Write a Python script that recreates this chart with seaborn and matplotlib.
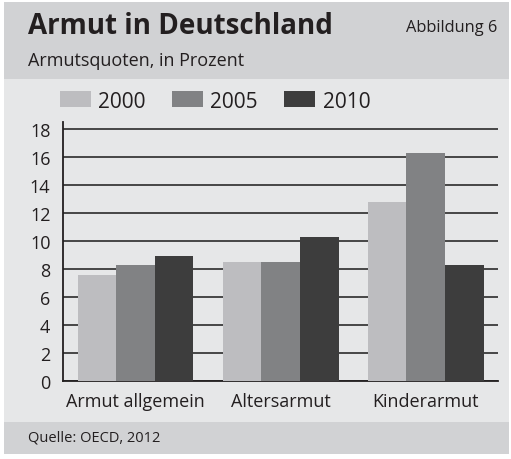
import numpy as np
import pandas as pd
import matplotlib
matplotlib.use("Agg")
import matplotlib.pyplot as plt
import seaborn as sns
from matplotlib.patches import Rectangle

categories = ["Armut allgemein", "Altersarmut", "Kinderarmut"]
years = ["2000", "2005", "2010"]
values_2000 = [7.6, 8.5, 12.8]
values_2005 = [8.3, 8.5, 16.3]
values_2010 = [8.9, 10.3, 8.3]
y_ticks = [0, 2, 4, 6, 8, 10, 12, 14, 16, 18]

colors = ["#bcbdc0", "#808285", "#3d3d3d"]

df = pd.DataFrame({
    "Kategorie": categories * 3,
    "Jahr": [y for y in years for _ in categories],
    "Quote": values_2000 + values_2005 + values_2010,
})

sns.set_theme(style="white")
plt.rcParams["font.family"] = ["Open Sans", "DejaVu Sans"]

W, H = 511, 460
fig = plt.figure(figsize=(W / 100, H / 100), dpi=100)
fig.patch.set_facecolor("white")

# background bands
def band(y0, y1, color):
    fig.patches.append(Rectangle((4 / W, 1 - y1 / H), (W - 6) / W, (y1 - y0) / H,
                                 transform=fig.transFigure, facecolor=color,
                                 edgecolor="none", zorder=-10))

band(3, 80, "#d1d2d4")
band(80, 423, "#e6e7e8")
band(423, 455, "#d1d2d4")

ax = fig.add_axes([63 / W, (H - 382) / H, (498 - 63) / W, (382 - 123) / H])
ax.set_facecolor("none")

sns.barplot(data=df, x="Kategorie", y="Quote", hue="Jahr", palette=colors,
            order=categories, hue_order=years, width=0.8, linewidth=0,
            edgecolor="none", ax=ax, zorder=3)

ax.set_xlim(-0.5, 2.5)
ax.set_ylim(0, 18.5)
ax.set_yticks(y_ticks)
ax.set_yticklabels([str(t) for t in y_ticks], fontsize=13, color="#231f20")
ax.yaxis.grid(True, color="#3a3a3a", linewidth=1.3, zorder=0)
ax.set_axisbelow(True)
ax.tick_params(axis="y", length=6, width=1.2, color="#231f20", pad=3, direction="out")
ax.tick_params(axis="x", which="major", length=0, pad=8, labelsize=13, labelcolor="#231f20")
ax.set_xticks([-0.5, 0.5, 1.5, 2.5], minor=True)
ax.tick_params(axis="x", which="minor", length=4, width=1.2, color="#231f20", direction="out")
for s in ["top", "right"]:
    ax.spines[s].set_visible(False)
for s in ["left", "bottom"]:
    ax.spines[s].set_color("#231f20")
    ax.spines[s].set_linewidth(1.3)
ax.set_xlabel("")
ax.set_ylabel("")

handles, labels = ax.get_legend_handles_labels()
ax.legend(handles, labels, ncol=3, frameon=False, fontsize=15,
          loc="center left", bbox_to_anchor=(41 / W, 1 - 102 / H),
          bbox_transform=fig.transFigure, handlelength=1.5, handleheight=0.8,
          handletextpad=0.35, columnspacing=1.25, labelcolor="#231f20")

fig.text(28 / W, 1 - 26 / H, "Armut in Deutschland", fontsize=20, fontweight="bold",
         color="#231f20", va="center", ha="left")
fig.text(497 / W, 1 - 28 / H, "Abbildung 6", fontsize=11.8, color="#231f20",
         va="center", ha="right")
fig.text(28 / W, 1 - 61 / H, "Armutsquoten, in Prozent", fontsize=13, color="#231f20",
         va="center", ha="left")
fig.text(28 / W, 1 - 438 / H, "Quelle: OECD, 2012", fontsize=10.5, color="#231f20",
         va="center", ha="left")

fig.savefig("out.png", dpi=100, facecolor=fig.get_facecolor())
